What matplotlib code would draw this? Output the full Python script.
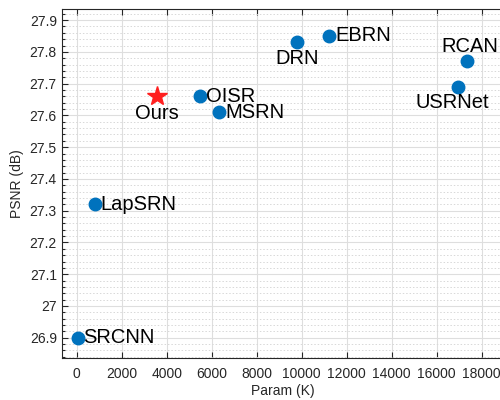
import numpy as np
import matplotlib
matplotlib.use('Agg')
import matplotlib.pyplot as plt
from matplotlib.ticker import MultipleLocator, FuncFormatter

# 他手法のデータ (Param [K], PSNR [dB])
names = ['SRCNN', 'LapSRN', 'OISR', 'MSRN', 'DRN', 'EBRN', 'USRNet', 'RCAN']
params = [57, 813, 5480, 6340, 9780, 11230, 16960, 17330]
psnr = [26.90, 27.32, 27.66, 27.61, 27.83, 27.85, 27.69, 27.77]
# ラベル位置 (right / below / above)
label_pos = ['right', 'right', 'right', 'right', 'below', 'right', 'below', 'above']

# 提案手法
ours_name = 'Ours'
ours_param = 3560
ours_psnr = 27.66

plt.rcParams['font.family'] = ['Liberation Sans', 'DejaVu Sans']

fig = plt.figure(figsize=(5, 4), dpi=100)
ax = fig.add_axes([0.1234, 0.104, 0.885, 0.8735])

ax.plot(params, psnr, 'o', color='#0072BD', markersize=9, zorder=3)
ax.plot(ours_param, ours_psnr, '*', color='#FF1F1F', markersize=14.5, zorder=3)

# 点ラベル
offsets = {'right': ((4, 0), 'left', 'center'),
           'below': ((0, -11.5), 'center', 'center'),
           'above': ((0, 11), 'center', 'center')}
for n, x, y, p in zip(names, params, psnr, label_pos):
    off, ha, va = offsets[p]
    if n == 'USRNet':
        off = (-4, -11)
    if n == 'RCAN':
        off = (2, 11)
    ax.annotate(n, xy=(x, y), xytext=off, textcoords='offset points',
                ha=ha, va=va, fontsize=14.5, color='black')
ax.annotate(ours_name, xy=(ours_param, ours_psnr), xytext=(0, -12.5),
            textcoords='offset points', ha='center', va='center',
            fontsize=14.5, color='black')

ax.set_xlim(-667, 19000)
ax.set_ylim(26.835, 27.935)
ax.xaxis.set_major_locator(MultipleLocator(2000))
ax.yaxis.set_major_locator(MultipleLocator(0.1))
ax.yaxis.set_minor_locator(MultipleLocator(0.02))
ax.yaxis.set_major_formatter(FuncFormatter(lambda v, p: '%g' % round(v, 2)))

ax.grid(True, which='major', color='#dedede', lw=0.8, zorder=0)
ax.grid(True, which='minor', axis='y', color='#d8d8d8', lw=0.7, ls=(0, (1.5, 2)), zorder=0)
ax.set_axisbelow(True)

ax.tick_params(which='both', direction='in', top=True, right=False,
               labelsize=10, colors='#262626', width=0.8)
ax.tick_params(which='major', length=4)
ax.tick_params(which='minor', length=2.5)
ax.tick_params(axis='x', which='major', pad=6)
for s in ax.spines.values():
    s.set_color('#262626')
    s.set_linewidth(0.8)

ax.set_xlabel('Param (K)', fontsize=10, color='#262626', labelpad=2.5)
ax.set_ylabel('PSNR (dB)', fontsize=10, color='#262626', labelpad=4)

fig.savefig('out.png', dpi=100)
